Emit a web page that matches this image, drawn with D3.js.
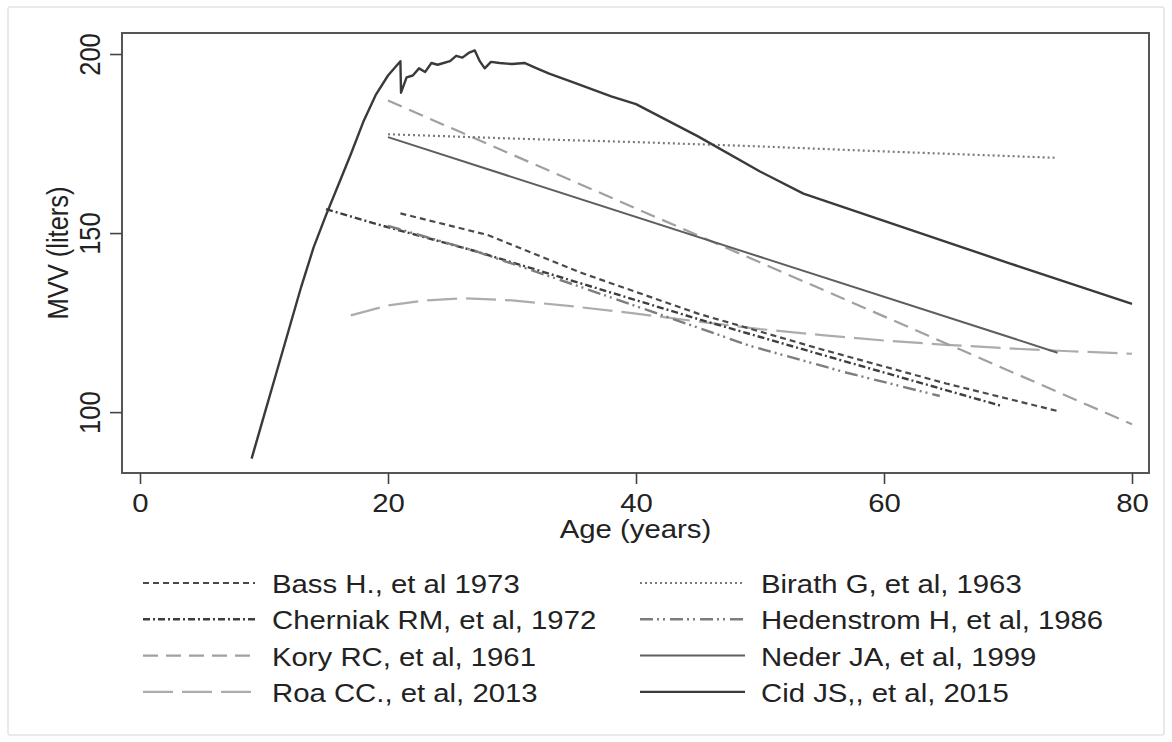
<!DOCTYPE html>
<html><head><meta charset="utf-8">
<script src="https://cdn.jsdelivr.net/npm/d3@7"></script>
<style>
html,body{margin:0;padding:0;background:#fff;}
text{font-family:"Liberation Sans",Arial,Helvetica,sans-serif;fill:#222;}
</style></head>
<body><svg id="c" width="1172" height="742"></svg>
<script>
// ---- data (age in years, MVV in liters) ----
const xTicks = [0, 20, 40, 60, 80];
const yTicks = [100, 150, 200];
const xTitle = "Age (years)";
const yTitle = "MVV (liters)";

const bass = [[21,155.5],[28,149.5],[35.5,139],[45,127.5],[55,117.5],[65,108],[74,100.3]];
const birath = [[20,177.6],[30,176.4],[40,175.4],[50,174.2],[60,172.8],[74,171]];
const cherniak = [[15,156.7],[19.4,152.2],[27,145],[35.5,136],[45,126],[55,116],[69.5,101.7]];
const hedenstrom = [[20,152],[27,145],[35.5,135],[43,126],[49.2,118.5],[57,111],[64.5,104.5]];
const kory = [[20,187],[80,96.6]];
const neder = [[20,176.8],[74,116.6]];
const roa = [[17,127],[20,129.8],[23,131.2],[26,131.8],[30,131.2],[35,129.5],[40,127.5],[45,125.3],[50,123.2],[55,121.5],[60,120],[65,118.8],[70,117.8],[75,117],[80,116.3]];
const cid = [[9,87],[10,99],[11,111],[12,123],[13,135],[14,146],[15,155],[16,163.5],[17,172],[18,181],[19,188.5],[20,194],[21,198],[21.05,189.2],[21.5,193.5],[22,194],[22.5,196],[23,195],[23.5,197.5],[24,197],[25,198],[25.5,199.5],[26,199],[26.5,200.3],[27,201],[27.4,198],[27.8,196],[28.3,197.8],[29,197.5],[30,197.2],[31,197.5],[32,196],[33,194.5],[35,192],[38,188.2],[40,186],[45,177],[50,167.2],[53.5,161],[60,153.4],[70,141.7],[80,130.2]];

const seriesNames = ["Bass H., et al 1973","Birath G, et al, 1963","Cherniak RM, et al, 1972","Hedenstrom H, et al, 1986","Kory RC, et al, 1961","Neder JA, et al, 1999","Roa CC., et al, 2013","Cid JS,, et al, 2015"];
const seriesData = [bass, birath, cherniak, hedenstrom, kory, neder, roa, cid];

// styles (by series index)
const styles = [
  {color:"#4a4a4a", width:2.2, dash:"6,4"},
  {color:"#7a7a7a", width:2.2, dash:"2,3"},
  {color:"#3e3e3e", width:2.4, dash:"7,3,2,3"},
  {color:"#7d7d7d", width:2.4, dash:"13,4,2,4,2,5"},
  {color:"#a0a0a0", width:2.2, dash:"15,8"},
  {color:"#5e5e5e", width:2.0, dash:null},
  {color:"#acacac", width:2.2, dash:"30,9"},
  {color:"#3a3a3a", width:2.4, dash:null}
];

const svg = d3.select("#c");
const SX = 1.15; // horizontal stretch of glyphs
const FS = 25.5;

// outer border
svg.append("rect").attr("x",8).attr("y",7).attr("width",1156).attr("height",728)
  .attr("fill","#fff").attr("stroke","#e3e3e3").attr("stroke-width",1.5).attr("rx",2);

const L = 122, R = 1149, T = 33, B = 473;
const x = d3.scaleLinear().domain([-1.452, 81.37]).range([L, R]);
const y = d3.scaleLinear().domain([83.0, 205.87]).range([B, T]);

// clip
svg.append("defs").append("clipPath").attr("id","pc").append("rect")
  .attr("x",L).attr("y",T).attr("width",R-L).attr("height",B-T);

// lines
const line = d3.line().x(d=>x(d[0])).y(d=>y(d[1]));
const order = [6,4,1,5,0,2,3,7];
const g = svg.append("g").attr("clip-path","url(#pc)");
order.forEach(i=>{
  const s = styles[i];
  g.append("path").attr("d", line(seriesData[i])).attr("fill","none")
    .attr("stroke", s.color).attr("stroke-width", s.width)
    .attr("stroke-dasharray", s.dash).attr("stroke-linejoin","round");
});

// frame
svg.append("rect").attr("x",L).attr("y",T).attr("width",R-L).attr("height",B-T)
  .attr("fill","none").attr("stroke","#555").attr("stroke-width",2);

// x axis
const xa = svg.append("g").attr("transform",`translate(0,${B})`)
  .call(d3.axisBottom(x).tickValues(xTicks).tickSize(11).tickSizeOuter(0).tickFormat(d3.format("d")));
xa.select(".domain").remove();
xa.selectAll(".tick line").attr("stroke","#444").attr("stroke-width",1.6);
xa.selectAll(".tick text").attr("y",39).attr("dy",null).style("font-size",FS+"px")
  .style("font-family",'"Liberation Sans",Arial,sans-serif').attr("fill","#222")
  .attr("transform",`scale(${SX},1)`);

// y axis
const ya = svg.append("g").attr("transform",`translate(${L},0)`)
  .call(d3.axisLeft(y).tickValues(yTicks).tickSize(12).tickSizeOuter(0).tickFormat(d3.format("d")));
ya.select(".domain").remove();
ya.selectAll(".tick line").attr("stroke","#444").attr("stroke-width",1.6);
ya.selectAll(".tick text").attr("x",0).attr("y",0).attr("dy",null).attr("text-anchor","middle")
  .style("font-size",FS+"px").style("font-family",'"Liberation Sans",Arial,sans-serif').attr("fill","#222")
  .attr("transform",`translate(-22,0) scale(${SX},1) rotate(-90)`);

// axis titles
svg.append("text").attr("transform",`translate(${(L+R)/2},538) scale(${SX},1)`)
  .attr("text-anchor","middle").style("font-size",FS+"px").text(xTitle);
svg.append("text").attr("transform",`translate(68,${(T+B)/2}) scale(${SX},1) rotate(-90)`)
  .attr("text-anchor","middle").style("font-size",FS+"px").text(yTitle);

// legend
const legRows = [[0,1],[2,3],[4,5],[6,7]];
const colLine = [[143,255],[640,745]];
const colText = [272,761];
legRows.forEach((row,ri)=>{
  const base = 593 + ri*36.3;
  row.forEach((si,ci)=>{
    const s = styles[si];
    svg.append("line").attr("x1",colLine[ci][0]).attr("x2",colLine[ci][1])
      .attr("y1",base-10).attr("y2",base-10)
      .attr("stroke",s.color).attr("stroke-width",s.width).attr("stroke-dasharray",s.dash);
    svg.append("text").attr("transform",`translate(${colText[ci]},${base}) scale(${SX},1)`)
      .style("font-size",FS+"px").text(seriesNames[si]);
  });
});
</script></body></html>
